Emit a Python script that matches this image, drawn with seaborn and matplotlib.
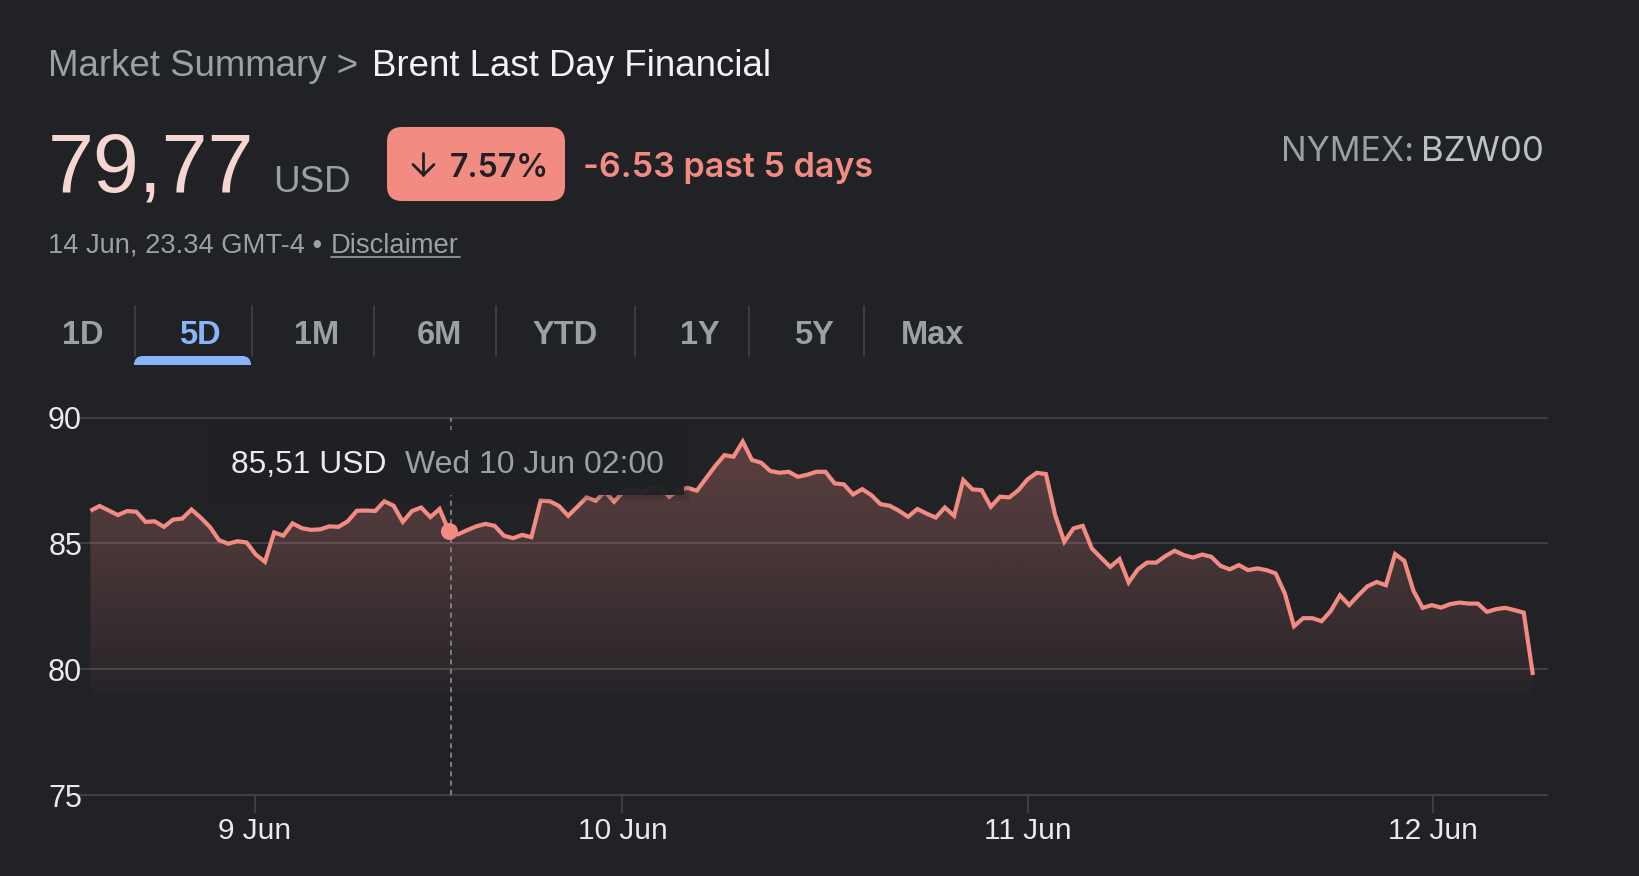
import numpy as np
import pandas as pd
import matplotlib
matplotlib.use("Agg")
import matplotlib.pyplot as plt
from matplotlib.patches import FancyBboxPatch, Rectangle
import seaborn as sns

# price, one sample per step
prices = [
    86.30, 86.49, 86.31, 86.13, 86.29, 86.26, 85.86, 85.88, 85.66, 85.95,
    85.99, 86.35, 86.03, 85.66, 85.13, 84.99, 85.09, 85.04, 84.56, 84.27,
    85.44, 85.31, 85.80, 85.61, 85.54, 85.56, 85.68, 85.66, 85.88, 86.30,
    86.31, 86.29, 86.68, 86.50, 85.86, 86.29, 86.43, 86.05, 86.37, 85.51,
    85.36, 85.53, 85.68, 85.78, 85.70, 85.31, 85.21, 85.34, 85.25, 86.70,
    86.68, 86.49, 86.10, 86.46, 86.83, 86.70, 87.06, 86.66, 87.06, 87.19,
    87.02, 87.23, 87.23, 86.86, 87.12, 87.21, 87.10, 87.59, 88.08, 88.51,
    88.45, 89.05, 88.32, 88.21, 87.88, 87.81, 87.85, 87.65, 87.73, 87.85,
    87.85, 87.39, 87.35, 86.95, 87.16, 86.92, 86.56, 86.50, 86.30, 86.06,
    86.37, 86.19, 86.03, 86.43, 86.10, 87.52, 87.15, 87.12, 86.46, 86.86,
    86.83, 87.12, 87.55, 87.81, 87.76, 86.13, 85.07, 85.60, 85.70, 84.80,
    84.43, 84.07, 84.38, 83.45, 83.97, 84.24, 84.24, 84.50, 84.71, 84.54,
    84.44, 84.56, 84.47, 84.11, 83.97, 84.14, 83.94, 84.01, 83.94, 83.81,
    83.01, 81.71, 82.03, 82.03, 81.91, 82.32, 82.94, 82.55, 82.94, 83.30,
    83.47, 83.34, 84.58, 84.31, 83.12, 82.44, 82.55, 82.45, 82.59, 82.65,
    82.61, 82.61, 82.28, 82.39, 82.44, 82.35, 82.25, 79.77,
]
y_ticks = [75, 80, 85, 90]
day_labels = ["9 Jun", "10 Jun", "11 Jun", "12 Jun"]
day_samples = [17.9, 57.9, 102.0, 146.1]
hover_sample = 39

tabs = ["1D", "5D", "1M", "6M", "YTD", "1Y", "5Y", "Max"]
tab_x = [83, 200, 317, 439, 565, 700, 814, 933]
tab_seps = [135, 252, 374, 496, 635, 749, 864]

BG = "#212226"
RED = "#f28b82"
GREY = "#9aa0a6"
LIGHT = "#e8eaed"
GRID = "#3e4045"

W, H = 1640, 876
sns.set_theme(style="dark", rc={"figure.facecolor": BG, "axes.facecolor": BG, "savefig.facecolor": BG})
plt.rcParams["font.family"] = ["Liberation Sans", "DejaVu Sans"]

fig = plt.figure(figsize=(W / 100, H / 100), dpi=100)

# chart axes: x is the sample number, pinned to the picture's pixel grid
step = 9.188
left_px, right_px = 80, 1547
top_px, bottom_px = 417.7, 795
ax = fig.add_axes([left_px / W, 1 - bottom_px / H, (right_px - left_px) / W, (bottom_px - top_px) / H])
df = pd.DataFrame({"sample": np.arange(len(prices)), "price": prices})

# gradient fill under the line, fades out a bit below 80
fill = ax.fill_between(df["sample"], df["price"], 78.6, color="none", lw=0)
levels = np.linspace(89.5, 78.6, 256)
rgba = np.ones((256, 1, 4))
rgba[..., :3] = matplotlib.colors.to_rgb(RED)
rgba[:, 0, 3] = np.interp(levels, [78.6, 80, 85, 89.5], [0.0, 0.06, 0.20, 0.29])
im = ax.imshow(rgba, extent=[0, len(prices) - 1, 78.6, 89.5], aspect="auto", zorder=1, origin="upper")
im.set_clip_path(fill.get_paths()[0], ax.transData)

sns.lineplot(data=df, x="sample", y="price", ax=ax, color=RED, lw=3, zorder=3,
             solid_joinstyle="miter", solid_capstyle="butt")

ax.axvline(hover_sample + 0.25, color="#7d7f83", lw=1.4, dashes=(2.6, 2.2), zorder=2)

ax.set_xlim((left_px - 90.4) / step, (right_px - 90.4) / step)
ax.set_ylim(75, 90)
ax.set_xlabel("")
ax.set_ylabel("")
ax.set_yticks(y_ticks)
ax.set_xticks(day_samples, day_labels)
ax.tick_params(axis="y", length=0, pad=-1.5, labelsize=22, labelcolor=LIGHT)
ax.tick_params(axis="x", bottom=True, length=13, width=1.4, color=GRID, pad=3, labelsize=21.5, labelcolor=LIGHT)
ax.grid(axis="y", color=GRID, lw=1.5)
ax.grid(axis="x", visible=False)
ax.set_axisbelow(True)
for gl in ax.get_ygridlines():
    gl.set_clip_on(False)
for s in ax.spines.values():
    s.set_visible(False)

# overlay in pixel coordinates for the page furniture
ui = fig.add_axes([0, 0, 1, 1], facecolor="none")
ui.set_xlim(0, W)
ui.set_ylim(H, 0)
ui.axis("off")

ui.text(48, 76, "Market Summary >", color=GREY, fontsize=26.4)
ui.text(372.5, 76, "Brent Last Day Financial", color="#f1f3f4", fontsize=26.4)
ui.text(48, 192, "79,77", color="#f6d6d3", fontsize=59.5)
ui.text(273, 192, "USD", color=GREY, fontsize=26.5)

ui.add_patch(FancyBboxPatch((387, 127), 178, 74, boxstyle="round,pad=0,rounding_size=15", fc=RED, ec="none", zorder=1))
ui.plot([423.5, 423.5], [153, 175], color="#202124", lw=2)
ui.plot([413, 423.5, 434], [164.5, 175, 164.5], color="#202124", lw=2)
ui.text(450, 177, "7.57%", color="#202124", fontsize=23, family="Inter", weight="semibold")
ui.text(583, 177, "-6.53 past 5 days", color=RED, fontsize=24.5, family="Inter", weight="semibold")

ui.text(1281, 161, "NYMEX:", color=GREY, fontsize=24.5, family="Inter")
ui.text(1421, 161, "BZW00", color="#bdc1c6", fontsize=25, family="Inter")

ui.text(48, 253, "14 Jun, 23.34 GMT-4 •", color=GREY, fontsize=19.7)
ui.text(331, 253, "Disclaimer", color=GREY, fontsize=19.7)
ui.plot([331, 460], [257, 257], color=GREY, lw=1.2)

for label, x in zip(tabs, tab_x):
    c = "#8ab4f8" if label == "5D" else GREY
    ui.text(x, 344, label, color=c, fontsize=23.5, weight="bold", ha="center")
for x in tab_seps:
    ui.plot([x, x], [306, 356], color=GRID, lw=1.3)
ui.add_patch(FancyBboxPatch((134, 356), 117, 20, boxstyle="round,pad=0,rounding_size=9", fc="#8ab4f8", ec="none"))
ui.add_patch(Rectangle((130, 365), 125, 14, fc=BG, ec="none", zorder=2))

# tooltip with a soft edge
for grow in [6, 3]:
    ui.add_patch(Rectangle((214 - grow, 430 - grow), 470 + 2 * grow, 65 + 2 * grow, fc="#1c1d20", ec="none",
                           alpha=0.12, zorder=3))
ui.add_patch(Rectangle((214, 430), 470, 65, fc="#202124", ec="none", alpha=0.96, zorder=3))
ui.text(231, 473, "85,51 USD", color=LIGHT, fontsize=22.9, zorder=4)
ui.text(405, 473, "Wed 10 Jun 02:00", color=GREY, fontsize=23, zorder=4)

# hover marker drawn above the tooltip layer
ax2 = fig.add_axes(ax.get_position(), facecolor="none")
sns.scatterplot(x=[hover_sample], y=[prices[hover_sample]], ax=ax2, color=RED, s=150, linewidth=0, zorder=5)
ax2.set_xlim(ax.get_xlim())
ax2.set_ylim(ax.get_ylim())
ax2.axis("off")

fig.savefig("out.png", dpi=100)
